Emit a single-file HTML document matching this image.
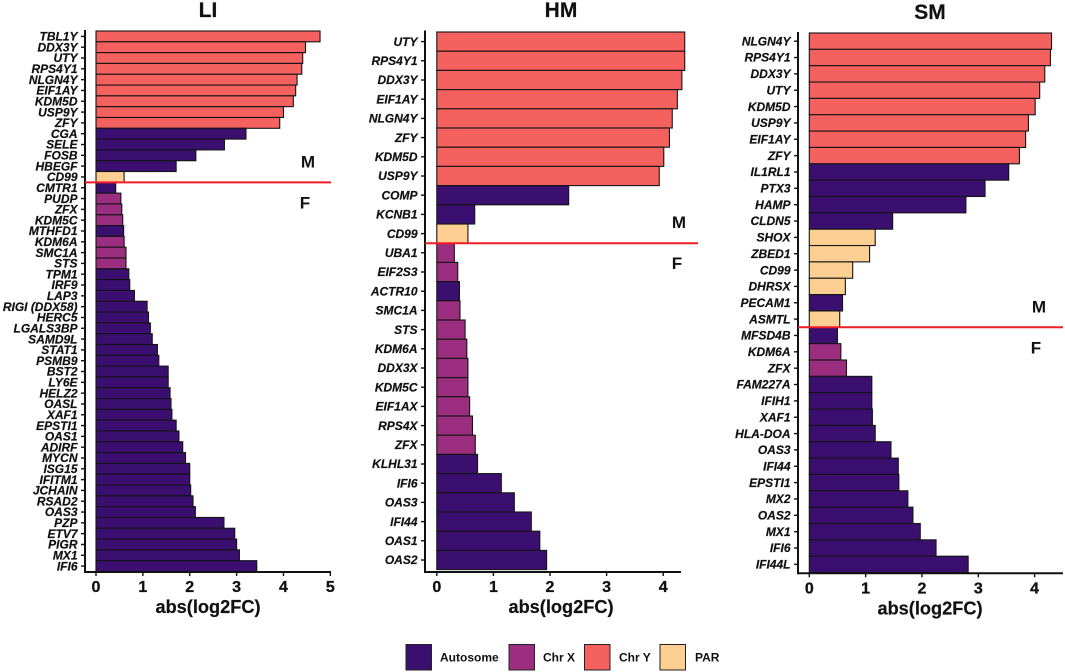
<!DOCTYPE html>
<html lang="en">
<head>
<meta charset="utf-8">
<title>abs(log2FC) by tissue</title>
<style>
html,body{margin:0;padding:0;background:#fff;width:1065px;height:672px;overflow:hidden}
svg{display:block;font-family:"Liberation Sans",sans-serif;filter:blur(0.3px)}
.gene{font-size:12px;font-weight:700;font-style:italic;fill:#111;stroke:#111;stroke-width:.2;text-anchor:end}
.tick{font-size:16px;font-weight:700;fill:#111;stroke:#111;stroke-width:.3;text-anchor:middle}
.title{font-size:21px;font-weight:700;fill:#111;stroke:#111;stroke-width:.2;text-anchor:middle}
.axt{font-size:18.2px;font-weight:700;fill:#111;stroke:#111;stroke-width:.2;text-anchor:middle}
.sex{font-size:17px;font-weight:700;fill:#111;text-anchor:middle}
.leg{font-size:12px;font-weight:700;fill:#111}
</style>
</head>
<body>
<svg id="chart" width="1065" height="672" viewBox="0 0 1065 672" xmlns="http://www.w3.org/2000/svg">
  <g>
    <rect x="406" y="644.5" width="25.5" height="25.5" fill="#3b0f70" stroke="#222" stroke-width="1"/>
    <text class="leg" x="440" y="661.5">Autosome</text>
    <rect x="509" y="644.5" width="25.5" height="25.5" fill="#9c2e7f" stroke="#222" stroke-width="1"/>
    <text class="leg" x="543" y="661.5">Chr X</text>
    <rect x="584.5" y="644.5" width="25.5" height="25.5" fill="#f4615f" stroke="#222" stroke-width="1"/>
    <text class="leg" x="619" y="661.5">Chr Y</text>
    <rect x="660" y="644.5" width="25.5" height="25.5" fill="#fecf92" stroke="#222" stroke-width="1"/>
    <text class="leg" x="695" y="661.5">PAR</text>
  </g>
</svg>
<script>
const liGenes = ["TBL1Y","DDX3Y","UTY","RPS4Y1","NLGN4Y","EIF1AY","KDM5D","USP9Y","ZFY","CGA","SELE","FOSB","HBEGF","CD99","CMTR1","PUDP","ZFX","KDM5C","MTHFD1","KDM6A","SMC1A","STS","TPM1","IRF9","LAP3","RIGI (DDX58)","HERC5","LGALS3BP","SAMD9L","STAT1","PSMB9","BST2","LY6E","HELZ2","OASL","XAF1","EPSTI1","OAS1","ADIRF","MYCN","ISG15","IFITM1","JCHAIN","RSAD2","OAS3","PZP","ETV7","PIGR","MX1","IFI6"];
const liValues = [4.78,4.47,4.41,4.39,4.29,4.26,4.21,4.00,3.92,3.20,2.74,2.13,1.71,0.60,0.42,0.53,0.55,0.57,0.59,0.60,0.64,0.64,0.70,0.72,0.82,1.09,1.12,1.16,1.20,1.31,1.34,1.54,1.54,1.58,1.60,1.62,1.71,1.77,1.85,1.91,2.00,2.00,2.02,2.07,2.12,2.73,2.96,3.00,3.06,3.43];
const liChrom = ["Y","Y","Y","Y","Y","Y","Y","Y","Y","A","A","A","A","P","A","X","X","X","A","X","X","X","A","A","A","A","A","A","A","A","A","A","A","A","A","A","A","A","A","A","A","A","A","A","A","A","A","A","A","A"];
const liTicks = [0,1,2,3,4,5];
const liMaleCount = 14;

const hmGenes = ["UTY","RPS4Y1","DDX3Y","EIF1AY","NLGN4Y","ZFY","KDM5D","USP9Y","COMP","KCNB1","CD99","UBA1","EIF2S3","ACTR10","SMC1A","STS","KDM6A","DDX3X","KDM5C","EIF1AX","RPS4X","ZFX","KLHL31","IFI6","OAS3","IFI44","OAS1","OAS2"];
const hmValues = [4.38,4.38,4.33,4.25,4.16,4.11,4.01,3.93,2.33,0.67,0.55,0.31,0.37,0.40,0.41,0.50,0.53,0.55,0.55,0.58,0.63,0.68,0.72,1.14,1.37,1.67,1.82,1.94];
const hmChrom = ["Y","Y","Y","Y","Y","Y","Y","Y","A","A","P","X","X","A","X","X","X","X","X","X","X","X","A","A","A","A","A","A"];
const hmTicks = [0,1,2,3,4];
const hmMaleCount = 11;

const smGenes = ["NLGN4Y","RPS4Y1","DDX3Y","UTY","KDM5D","USP9Y","EIF1AY","ZFY","IL1RL1","PTX3","HAMP","CLDN5","SHOX","ZBED1","CD99","DHRSX","PECAM1","ASMTL","MFSD4B","KDM6A","ZFX","FAM227A","IFIH1","XAF1","HLA-DOA","OAS3","IFI44","EPSTI1","MX2","OAS2","MX1","IFI6","IFI44L"];
const smValues = [4.30,4.28,4.18,4.09,4.01,3.89,3.84,3.73,3.54,3.12,2.78,1.48,1.17,1.07,0.77,0.64,0.59,0.54,0.50,0.56,0.66,1.11,1.11,1.12,1.17,1.45,1.58,1.59,1.75,1.84,1.97,2.25,2.82];
const smChrom = ["Y","Y","Y","Y","Y","Y","Y","Y","A","A","A","A","P","P","P","P","A","P","A","X","X","A","A","A","A","A","A","A","A","A","A","A","A"];
const smTicks = [0,1,2,3,4];
const smMaleCount = 18;

const chromColor = {A:"#3b0f70",X:"#9c2e7f",Y:"#f4615f",P:"#fecf92"};
const NS = "http://www.w3.org/2000/svg";
const root = document.getElementById("chart");

function node(parent, tag, attrs, text){
  const el = document.createElementNS(NS, tag);
  for (const k in attrs) el.setAttribute(k, attrs[k]);
  if (text !== undefined) el.textContent = text;
  parent.appendChild(el);
  return el;
}

function drawPanel(p){
  const xScale = v => p.x0 + v * p.unit;
  const yBand = i => p.top + i * p.band;

  const g = node(root, "g", {});
  
  

  const title = node(g, "text", {class:"title", x:p.center, y:p.titleY}, p.name);
  
  

  p.genes.forEach((gene, i) => {
    const bar = node(g, "rect", {
      x:xScale(0), y:yBand(i), width:xScale(p.values[i]) - xScale(0), height:p.band,
      fill:chromColor[p.chrom[i]], stroke:"#141414", "stroke-width":1.1
    });
    
    

    const yc = yBand(i) + p.band / 2;
    const tick = node(g, "line", {x1:p.axisX - 4, x2:p.axisX, y1:yc, y2:yc, stroke:"#111", "stroke-width":1.4});
    
    

    const label = node(g, "text", {class:"gene", x:p.axisX - 7.5, y:yc + 4.2}, gene);
    
    
  });

  const yAxis = node(g, "line", {x1:p.axisX, x2:p.axisX, y1:p.axisTop, y2:p.axisY + 1, stroke:"#111", "stroke-width":2});
  
  

  const xAxis = node(g, "line", {x1:p.axisX - 1, x2:p.axisEnd, y1:p.axisY, y2:p.axisY, stroke:"#111", "stroke-width":2});
  
  

  p.ticks.forEach(t => {
    const tk = node(g, "line", {x1:xScale(t), x2:xScale(t), y1:p.axisY, y2:p.axisY + 4, stroke:"#111", "stroke-width":1.4});
    
    

    const tl = node(g, "text", {class:"tick", x:xScale(t), y:p.axisY + 20}, t);
    
    
  });

  const axt = node(g, "text", {class:"axt", x:p.center, y:p.axisY + 41}, "abs(log2FC)");
  
  

  const splitY = yBand(p.maleCount);
  const split = node(g, "line", {x1:p.axisX, x2:p.lineEnd, y1:splitY, y2:splitY, stroke:"#f01c24", "stroke-width":2});
  
  

  const m = node(g, "text", {class:"sex", x:p.mX, y:splitY - 15}, "M");
  
  

  const f = node(g, "text", {class:"sex", x:p.fX, y:splitY + 26}, "F");
  
  
}

drawPanel({name:"LI", genes:liGenes, values:liValues, chrom:liChrom, ticks:liTicks, maleCount:liMaleCount,
  x0:96, unit:46.87, top:31, band:10.81, axisX:85, axisTop:30, axisY:572, axisEnd:331, lineEnd:331,
  center:208, titleY:17, mX:308, fX:305});
drawPanel({name:"HM", genes:hmGenes, values:hmValues, chrom:hmChrom, ticks:hmTicks, maleCount:hmMaleCount,
  x0:436.8, unit:56.6, top:32, band:19.2, axisX:425, axisTop:30.5, axisY:572, axisEnd:681, lineEnd:698,
  center:561, titleY:17, mX:679, fX:677});
drawPanel({name:"SM", genes:smGenes, values:smValues, chrom:smChrom, ticks:smTicks, maleCount:smMaleCount,
  x0:809.3, unit:56.33, top:33, band:16.35, axisX:798, axisTop:32, axisY:573.3, axisEnd:1063, lineEnd:1063,
  center:930, titleY:19, mX:1039, fX:1036});
</script>
</body>
</html>
